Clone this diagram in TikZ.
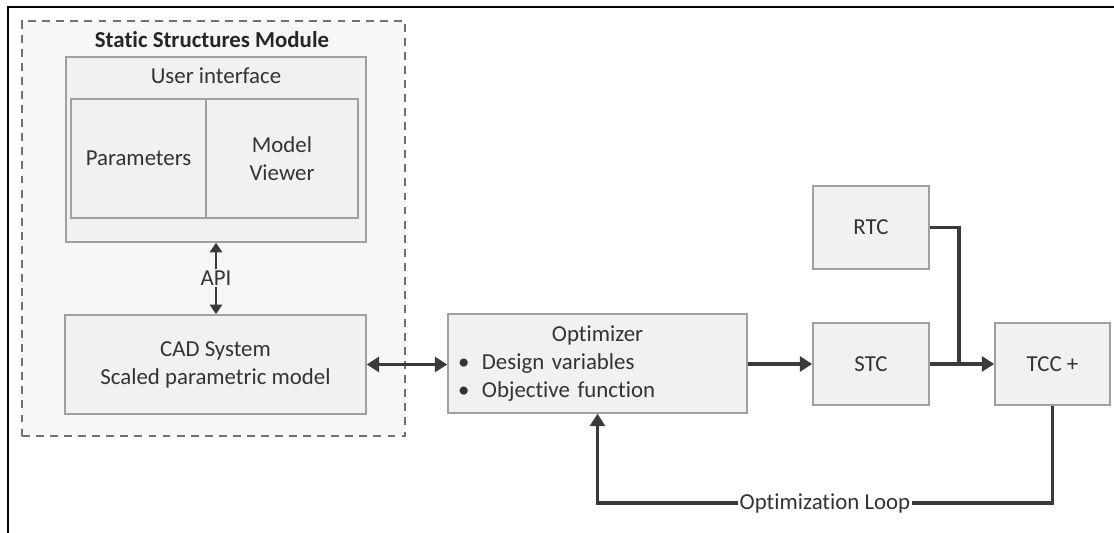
\documentclass[tikz,border=0pt]{standalone}
\usepackage{fontspec}
\setmainfont[Ligatures=NoCommon]{Carlito}
\usetikzlibrary{shapes,arrows.meta,positioning,calc}

\definecolor{boxfill}{HTML}{F1F1F1}
\definecolor{boxline}{HTML}{A0A0A0}
\definecolor{modfill}{HTML}{F7F7F7}
\definecolor{modline}{HTML}{707070}
\definecolor{darkline}{HTML}{3A3A3A}
\definecolor{textgray}{HTML}{333333}

\begin{document}
\begin{tikzpicture}[
        font=\fontsize{13}{16}\selectfont,
        text=textgray,
        box/.style={draw=boxline, fill=boxfill, line width=0.9pt, inner sep=0pt, align=center},
        module/.style={draw=modline, fill=modfill, line width=1.2pt, dash pattern=on 4.5pt off 3.5pt},
        flow/.style={draw=darkline, line width=2.1pt, -{Triangle[length=7pt,width=8.5pt]}},
        joinline/.style={draw=darkline, line width=2.1pt},
        apiflow/.style={draw=darkline, line width=1.5pt, -{Triangle[length=5.5pt,width=7pt]}}
    ]
    \useasboundingbox (0,0) rectangle (22.28,10.66);

    % Frame
    \draw[line width=1.6pt] (0.16,0) -- (0.16,10.52) -- (22.28,10.52);

    % Static structures module
    \node[module, minimum width=7.66cm, minimum height=8.30cm] (module) at (4.27,6.09) {};
    \node[font=\fontsize{13}{16}\selectfont\bfseries, text=black!85] (title) at (4.24,9.86) {Static Structures Module};

    % User interface
    \node[box, minimum width=6.0cm, minimum height=3.7cm] (ui) at (4.32,7.67) {};
    \node (uilabel) at (4.32,9.14) {User interface};
    \node[box, minimum width=2.70cm, minimum height=2.38cm] (params) at (2.77,7.49) {Parameters};
    \node[box, minimum width=3.04cm, minimum height=2.38cm] (viewer) at (5.64,7.49) {Model\\Viewer};

    % CAD system
    \node[box, minimum width=6.02cm, minimum height=1.98cm] (cad) at (4.31,3.37) {CAD System\\Scaled parametric model};
    \node[inner sep=1pt] (api) at (4.32,5.10) {API};
    \draw[apiflow] (api) -- (api |- ui.south);
    \draw[apiflow] (api) -- (api |- cad.north);

    % Optimizer
    \node[box, minimum width=5.98cm, minimum height=1.98cm, text width=5.58cm, align=left] (opt) at (11.95,3.39)
        {\makebox[\linewidth]{Optimizer}\\ \textbullet\hspace{0.55em}Design variables\\ \textbullet\hspace{0.55em}Objective function};
    \draw[flow, {Triangle[length=7pt,width=8.5pt]}-{Triangle[length=7pt,width=8.5pt]}] (cad.east) -- (cad.east -| opt.west);

    % Constraints
    \node[box, minimum width=2.32cm, minimum height=1.64cm] (stc) at (17.42,3.38) {STC};
    \node[box, minimum width=2.32cm, minimum height=1.66cm] (rtc) at (17.42,6.11) {RTC};
    \node[box, minimum width=2.30cm, minimum height=1.64cm] (tcc) at (21.05,3.38) {TCC +};
    \coordinate (join) at (19.18,3.38);
    \draw[flow] (opt.east |- stc.west) -- (stc.west);
    \draw[flow] (stc.east) -- (tcc.west);
    \draw[joinline] (rtc.east) -| (join);

    % Optimization loop
    \coordinate (loop) at (0,0.60);
    \draw[flow] (tcc.south) -- (tcc.south |- loop) -- node[fill=white, inner sep=1pt] {Optimization Loop} (opt.south |- loop) -- (opt.south);
\end{tikzpicture}
\end{document}
